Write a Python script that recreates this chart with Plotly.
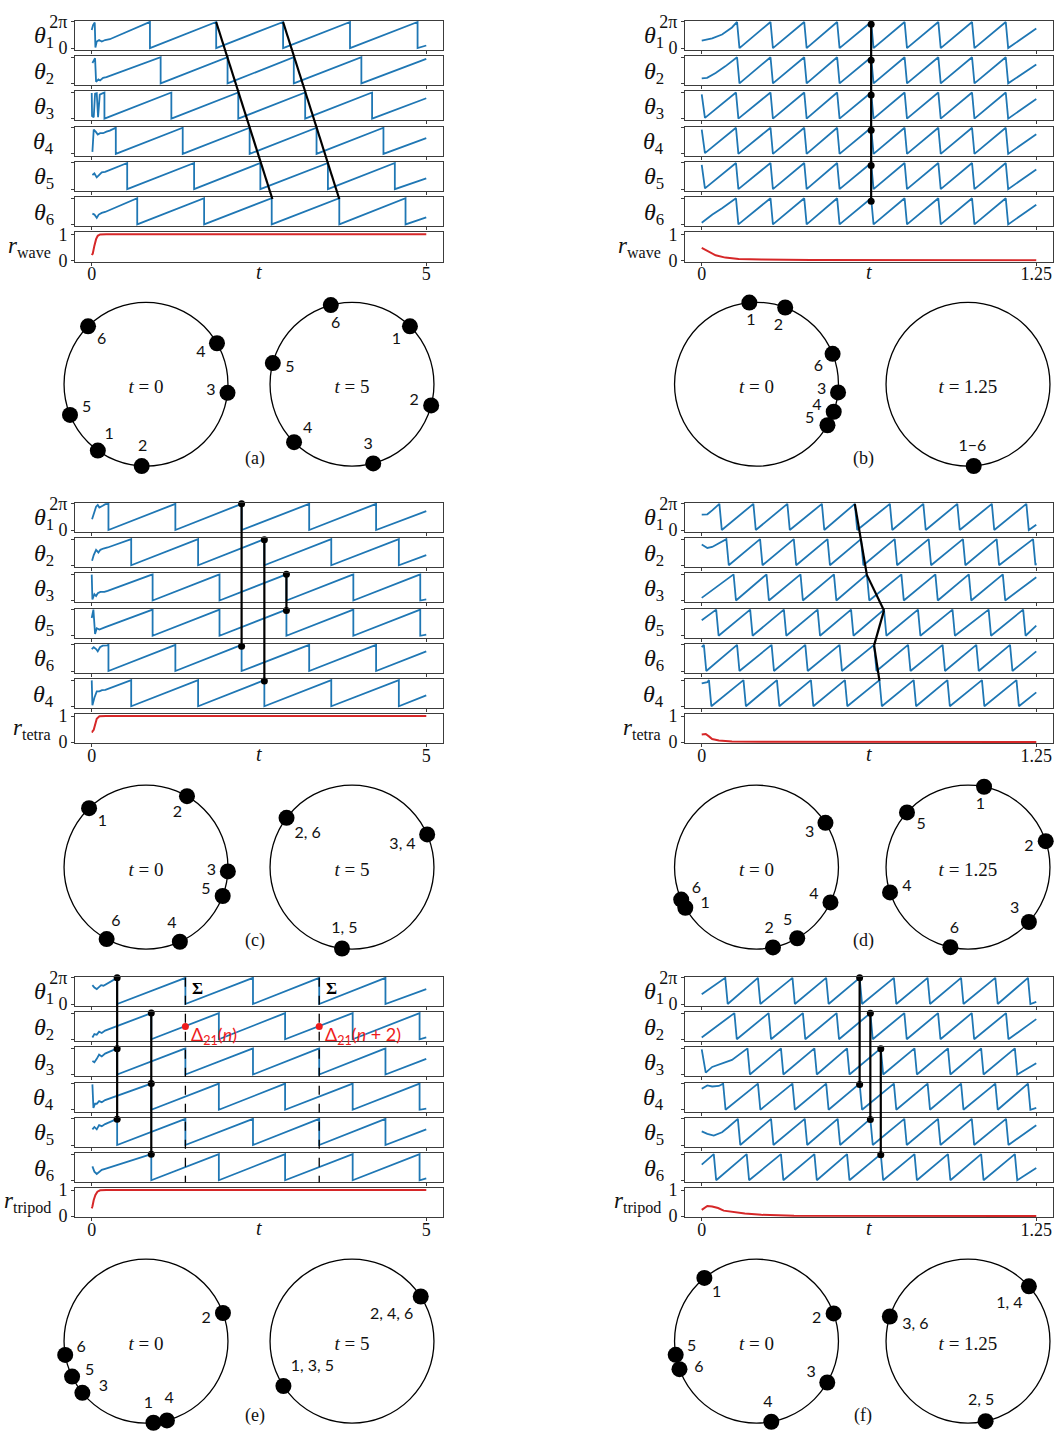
import math
import plotly.graph_objects as go

W, H = 1061, 1440
TAU = 2 * math.pi

# ------------------------------------------------------------------
# Phase traces, phases as fractions of a turn (1.0 = 2π).
# *_head  : initial transient points (t, phase)
# *_wraps : times at which the phase reaches 2π and resets to 0
# *_end   : phase at the final time
# Strips are listed in the order they are stacked.
# ------------------------------------------------------------------

# (a) travelling wave, t in [0, 5]
a_T = 5.0
a_order = [1, 2, 3, 4, 5, 6]
a_head = [
    [(0.0, 0.69), (0.02, 0.88), (0.045, 0.98), (0.055, 0.02), (0.075, 0.25), (0.11, 0.31), (0.15, 0.25), (0.2, 0.31), (0.27, 0.34)],
    [(0.01, 0.78), (0.05, 0.96), (0.065, 0.06), (0.1, 0.15), (0.125, 0.11), (0.17, 0.21), (0.22, 0.24)],
    [(0.0, 0.98), (0.005, 0.1), (0.03, 0.05), (0.05, 0.95), (0.075, 0.97), (0.095, 0.05), (0.12, 0.92), (0.15, 0.96), (0.175, 0.97)],
    [(0.01, 0.075), (0.03, 0.93), (0.065, 0.83), (0.09, 0.74), (0.125, 0.79), (0.17, 0.79), (0.22, 0.85), (0.27, 0.89)],
    [(0.01, 0.54), (0.04, 0.6), (0.075, 0.45), (0.105, 0.54), (0.15, 0.64), (0.2, 0.66)],
    [(0.01, 0.41), (0.04, 0.375), (0.075, 0.25), (0.105, 0.375), (0.15, 0.44), (0.2, 0.475)],
]
a_wraps = [
    [0.87, 1.86, 2.86, 3.86, 4.87],
    [1.03, 2.03, 3.02, 4.03],
    [0.19, 1.19, 2.19, 3.19, 4.19],
    [0.36, 1.36, 2.36, 3.36, 4.36],
    [0.53, 1.53, 2.52, 3.53, 4.53],
    [0.68, 1.68, 2.69, 3.70, 4.69],
]
a_end = [0.10, 0.94, 0.78, 0.60, 0.41, 0.27]
a_r_t = [0.0, 0.015, 0.04, 0.065, 0.09, 0.125, 0.22, 5.0]
a_r = [0.2, 0.25, 0.56, 0.81, 0.94, 0.99, 1.0, 1.0]

# (b) same network, t in [0, 1.25]
b_T = 1.25
b_order = [1, 2, 3, 4, 5, 6]
b_head = [
    [(0.0, 0.29), (0.039, 0.375), (0.076, 0.52), (0.113, 0.79)],
    [(0.0, 0.19), (0.02, 0.21), (0.052, 0.4), (0.088, 0.65)],
    [(0.0, 0.93), (0.012, 0.03)],
    [(0.0, 0.93), (0.012, 0.03)],
    [(0.0, 0.93), (0.012, 0.03)],
    [(0.0, 0.06), (0.04, 0.375), (0.076, 0.62)],
]
b_wraps = [
    [0.132, 0.257, 0.383, 0.506, 0.633, 0.758, 0.884, 1.010, 1.136],
    [0.132, 0.257, 0.383, 0.506, 0.633, 0.758, 0.884, 1.010, 1.136],
    [0.128, 0.257, 0.383, 0.506, 0.633, 0.758, 0.884, 1.010, 1.136],
    [0.128, 0.257, 0.383, 0.506, 0.633, 0.758, 0.884, 1.010, 1.136],
    [0.128, 0.257, 0.383, 0.506, 0.633, 0.758, 0.884, 1.010, 1.136],
    [0.128, 0.257, 0.383, 0.506, 0.633, 0.758, 0.884, 1.010, 1.136],
]
b_end = [0.75, 0.72, 0.75, 0.75, 0.75, 0.75]
b_r_t = [0.0, 0.027, 0.052, 0.088, 0.138, 0.224, 0.408, 1.25]
b_r = [0.47, 0.31, 0.19, 0.10, 0.05, 0.025, 0.01, 0.0]

# (c) tetrahedral pattern, t in [0, 5]
c_T = 5.0
c_order = [1, 2, 3, 5, 6, 4]
c_head = [
    [(0.005, 0.41), (0.03, 0.63), (0.065, 0.89), (0.09, 0.96), (0.114, 0.86), (0.164, 0.93), (0.204, 0.99)],
    [(0.005, 0.17), (0.03, 0.39), (0.065, 0.59), (0.1, 0.49), (0.129, 0.59), (0.174, 0.64), (0.238, 0.68)],
    [(0.0, 0.99), (0.01, 0.04), (0.04, 0.24), (0.065, 0.17), (0.09, 0.28), (0.129, 0.33), (0.189, 0.33), (0.238, 0.37)],
    [(0.0, 0.68), (0.025, 1.0), (0.05, 0.07), (0.075, 0.29), (0.114, 0.24), (0.154, 0.29), (0.204, 0.33)],
    [(0.0, 0.84), (0.03, 0.91), (0.065, 0.84), (0.09, 0.75), (0.124, 0.91), (0.164, 0.97), (0.23, 0.98)],
    [(0.0, 0.99), (0.01, 0.04), (0.04, 0.33), (0.075, 0.57), (0.114, 0.57), (0.154, 0.62), (0.204, 0.63)],
]
c_wraps = [
    [0.25, 1.25, 2.24, 3.25, 4.25],
    [0.59, 1.59, 2.58, 3.58, 4.59],
    [0.91, 1.91, 2.91, 3.91, 4.91],
    [0.91, 1.91, 2.91, 3.91, 4.91],
    [0.25, 1.25, 2.24, 3.25, 4.25],
    [0.59, 1.59, 2.58, 3.58, 4.59],
]
c_end = [0.72, 0.39, 0.04, 0.04, 0.75, 0.42]
c_r_t = [0.0, 0.005, 0.03, 0.05, 0.075, 0.115, 0.21, 5.0]
c_r = [0.39, 0.39, 0.47, 0.72, 0.90, 0.99, 1.0, 1.0]

# (d) same network, t in [0, 1.25]
d_T = 1.25
d_order = [1, 2, 3, 5, 6, 4]
d_head = [
    [(0.0, 0.59), (0.021, 0.6), (0.039, 0.75)],
    [(0.0, 0.79), (0.021, 0.66), (0.039, 0.7), (0.064, 0.83)],
    [(0.0, 0.1)],
    [(0.0, 0.59)],
    [(0.0, 0.91)],
    [(0.0, 0.88), (0.021, 0.92)],
]
d_wraps = [
    [0.066, 0.193, 0.32, 0.449, 0.572, 0.703, 0.828, 0.955, 1.084, 1.213],
    [0.092, 0.218, 0.344, 0.47, 0.595, 0.721, 0.848, 0.976, 1.102, 1.238],
    [0.119, 0.242, 0.369, 0.494, 0.617, 0.746, 0.873, 0.998, 1.125],
    [0.054, 0.181, 0.307, 0.433, 0.558, 0.681, 0.808, 0.937, 1.072, 1.201],
    [0.008, 0.132, 0.261, 0.387, 0.515, 0.644, 0.771, 0.9, 1.026, 1.152],
    [0.027, 0.156, 0.281, 0.408, 0.535, 0.664, 0.792, 0.918, 1.047, 1.176],
]
d_end = [0.2, 0.08, 0.89, 0.39, 0.75, 0.53]
d_r_t = [0.0, 0.015, 0.027, 0.039, 0.064, 0.113, 0.224, 1.25]
d_r = [0.29, 0.31, 0.22, 0.12, 0.06, 0.025, 0.01, 0.0]

# (e) tripod pattern, t in [0, 5]
e_T = 5.0
e_order = [1, 2, 3, 4, 5, 6]
e_head = [
    [(0.01, 0.72), (0.04, 0.63), (0.075, 0.57), (0.11, 0.67), (0.14, 0.72), (0.175, 0.70), (0.214, 0.76)],
    [(0.01, 0.07), (0.04, 0.2), (0.075, 0.17), (0.11, 0.29), (0.15, 0.24), (0.2, 0.33)],
    [(0.01, 0.52), (0.04, 0.47), (0.075, 0.6), (0.11, 0.76), (0.15, 0.69), (0.2, 0.8)],
    [(0.01, 0.97), (0.025, 0.07), (0.05, 0.23), (0.075, 0.23), (0.11, 0.33), (0.15, 0.29), (0.2, 0.37)],
    [(0.01, 0.6), (0.04, 0.69), (0.075, 0.6), (0.11, 0.76), (0.15, 0.72), (0.2, 0.8)],
    [(0.01, 0.53), (0.04, 0.33), (0.075, 0.24), (0.11, 0.33), (0.15, 0.4), (0.2, 0.44)],
]
e_wraps = [
    [0.38, 1.40, 2.41, 3.40, 4.39],
    [0.89, 1.90, 2.89, 3.90, 4.90],
    [0.38, 1.40, 2.41, 3.40, 4.39],
    [0.89, 1.90, 2.89, 3.90, 4.90],
    [0.38, 1.40, 2.41, 3.40, 4.39],
    [0.89, 1.90, 2.89, 3.90, 4.90],
]
e_end = [0.57, 0.07, 0.6, 0.04, 0.6, 0.07]
e_r_t = [0.0, 0.01, 0.03, 0.055, 0.085, 0.125, 0.22, 5.0]
e_r = [0.3, 0.37, 0.62, 0.81, 0.94, 0.99, 1.0, 1.0]

# (f) same network, t in [0, 1.25]
f_T = 1.25
f_order = [1, 2, 3, 4, 5, 6]
f_head = [
    [(0.0, 0.37)],
    [(0.0, 0.07)],
    [(0.0, 0.96), (0.015, 0.07), (0.039, 0.29), (0.076, 0.43), (0.113, 0.56)],
    [(0.0, 0.8), (0.021, 0.93), (0.039, 0.89), (0.064, 0.91)],
    [(0.0, 0.52), (0.021, 0.43), (0.045, 0.36), (0.076, 0.49), (0.1, 0.69)],
    [(0.0, 0.6)],
]
f_wraps = [
    [0.088, 0.21, 0.339, 0.465, 0.59, 0.718, 0.844, 0.969, 1.097, 1.219],
    [0.122, 0.25, 0.378, 0.504, 0.63, 0.757, 0.883, 1.009, 1.137],
    [0.171, 0.296, 0.421, 0.543, 0.669, 0.795, 0.92, 1.044, 1.17],
    [0.08, 0.21, 0.339, 0.465, 0.59, 0.718, 0.844, 0.969, 1.097, 1.219],
    [0.135, 0.259, 0.385, 0.508, 0.63, 0.757, 0.883, 1.009, 1.137],
    [0.045, 0.168, 0.296, 0.421, 0.543, 0.669, 0.795, 0.92, 1.044, 1.17],
]
f_end = [0.08, 0.77, 0.43, 0.07, 0.76, 0.47]
f_r_t = [0.0, 0.009, 0.021, 0.039, 0.061, 0.082, 0.113, 0.161, 0.223, 0.345, 1.25]
f_r = [0.24, 0.31, 0.39, 0.37, 0.31, 0.21, 0.16, 0.10, 0.05, 0.01, 0.0]

# connectors between strips: (strip index, t, phase)
a_links = [[(0, 1.86, 1.0), (5, 2.70, 0.97)], [(0, 2.86, 1.0), (5, 3.70, 0.97)]]
a_dots = []
b_links = [[(0, 0.633, 0.91), (5, 0.633, 0.88)]]
b_dots = [(0, 0.633, 0.91), (1, 0.633, 0.88), (2, 0.633, 0.9), (3, 0.633, 0.9), (4, 0.633, 0.9), (5, 0.633, 0.88)]
c_links = [[(0, 2.24, 1.0), (4, 2.24, 0.95)], [(1, 2.58, 0.98), (5, 2.58, 0.97)], [(2, 2.91, 1.0), (3, 2.91, 0.97)]]
c_dots = [(0, 2.24, 1.0), (4, 2.24, 0.95), (1, 2.58, 0.98), (5, 2.58, 0.97), (2, 2.91, 1.0), (3, 2.91, 0.97)]
d_links = [[(0, 0.572, 1.0), (2, 0.617, 0.98), (3, 0.681, 0.97), (4, 0.644, 0.98), (5, 0.664, 0.98)]]
d_dots = []
e_links = [[(0, 0.38, 1.0), (4, 0.38, 0.99)], [(1, 0.89, 1.0), (5, 0.89, 1.0)]]
e_dots = [(0, 0.38, 1.0), (2, 0.38, 0.99), (4, 0.38, 0.99), (1, 0.89, 1.0), (3, 0.89, 1.0), (5, 0.89, 1.0)]
f_links = [[(0, 0.59, 1.0), (3, 0.59, 0.97)], [(1, 0.63, 0.99), (4, 0.63, 0.98)], [(2, 0.669, 0.99), (5, 0.669, 0.98)]]
f_dots = [(0, 0.59, 1.0), (3, 0.59, 0.97), (1, 0.63, 0.99), (4, 0.63, 0.98), (2, 0.669, 0.99), (5, 0.669, 0.98)]

# Poincaré sections in panel (e)
e_sections = [1.40, 3.40]
e_delta = [(1.40, 0.49, "Δ<sub>21</sub>(<i>n</i>)"), (3.40, 0.49, "Δ<sub>21</sub>(<i>n</i> + 2)")]

# phase circles: labels and angles (degrees)
a_c0_lab = ["1", "2", "3", "4", "5", "6"]
a_c0_ang = [234, 267, 354, 30, 202, 135]
a_c1_lab = ["1", "2", "3", "4", "5", "6"]
a_c1_ang = [45, 345, 285, 225, 165, 105]
b_c0_lab = ["1", "2", "3", "4", "5", "6"]
b_c0_ang = [95, 69.5, -5.7, -19.6, -30, 21.8]
b_c1_lab = ["1−6"]
b_c1_ang = [274]
c_c0_lab = ["1", "2", "3", "4", "5", "6"]
c_c0_ang = [134, 60, -3, -65.6, -20.6, 241.3]
c_c1_lab = ["2, 6", "3, 4", "1, 5"]
c_c1_ang = [143, 23.5, 263]
d_c0_lab = ["1", "2", "3", "4", "5", "6"]
d_c0_ang = [209.7, -78.4, 32.7, -25.5, -60.2, 203.3]
d_c1_lab = ["1", "2", "3", "4", "5", "6"]
d_c1_ang = [78.7, 18.5, -42, 198, 138.1, 257.6]
e_c0_lab = ["1", "2", "3", "4", "5", "6"]
e_c0_ang = [275.2, 20.1, 219.1, 284.8, 205.6, 189.7]
e_c1_lab = ["2, 4, 6", "1, 3, 5"]
e_c1_ang = [33, 213.2]
f_c0_lab = ["1", "2", "3", "4", "5", "6"]
f_c0_ang = [129.5, 19.8, -30.3, -79.6, 189.6, 200]
f_c1_lab = ["1, 4", "3, 6", "2, 5"]
f_c1_ang = [42, 162.5, 282.4]

# label angle nudges where dots crowd together
label_nudge = {("b", 0, "3"): 1, ("b", 0, "5"): -3, ("b", 0, "6"): -6,
               ("d", 0, "6"): -3, ("d", 0, "1"): 6,
               ("e", 0, "6"): -4, ("e", 0, "5"): 2, ("e", 0, "3"): 8,
               ("e", 0, "1"): -3, ("e", 0, "4"): 7,
               ("f", 0, "5"): -4, ("f", 0, "6"): 5}

panels = [
    dict(key="a", row=0, col=0, T=a_T, order=a_order, head=a_head, wraps=a_wraps, end=a_end,
         rt=a_r_t, rv=a_r, rname="wave", links=a_links, dots=a_dots,
         circles=[(a_c0_lab, a_c0_ang, "0"), (a_c1_lab, a_c1_ang, "5")], drop=0.0),
    dict(key="b", row=0, col=1, T=b_T, order=b_order, head=b_head, wraps=b_wraps, end=b_end,
         rt=b_r_t, rv=b_r, rname="wave", links=b_links, dots=b_dots,
         circles=[(b_c0_lab, b_c0_ang, "0"), (b_c1_lab, b_c1_ang, "1.25")], drop=0.009),
    dict(key="c", row=1, col=0, T=c_T, order=c_order, head=c_head, wraps=c_wraps, end=c_end,
         rt=c_r_t, rv=c_r, rname="tetra", links=c_links, dots=c_dots,
         circles=[(c_c0_lab, c_c0_ang, "0"), (c_c1_lab, c_c1_ang, "5")], drop=0.0),
    dict(key="d", row=1, col=1, T=d_T, order=d_order, head=d_head, wraps=d_wraps, end=d_end,
         rt=d_r_t, rv=d_r, rname="tetra", links=d_links, dots=d_dots,
         circles=[(d_c0_lab, d_c0_ang, "0"), (d_c1_lab, d_c1_ang, "1.25")], drop=0.009),
    dict(key="e", row=2, col=0, T=e_T, order=e_order, head=e_head, wraps=e_wraps, end=e_end,
         rt=e_r_t, rv=e_r, rname="tripod", links=e_links, dots=e_dots,
         circles=[(e_c0_lab, e_c0_ang, "0"), (e_c1_lab, e_c1_ang, "5")], drop=0.0),
    dict(key="f", row=2, col=1, T=f_T, order=f_order, head=f_head, wraps=f_wraps, end=f_end,
         rt=f_r_t, rv=f_r, rname="tripod", links=f_links, dots=f_dots,
         circles=[(f_c0_lab, f_c0_ang, "0"), (f_c1_lab, f_c1_ang, "1.25")], drop=0.009),
]

# ------------------------------------------------------------------
# geometry and style
# ------------------------------------------------------------------
SERIF = "Liberation Serif"
SANS = "Lato"
BLUE = "#1f77b4"
RED = "#d62728"
FRAME = "#3c3c3c"

COL_X = [(75, 443), (685, 1053)]
ROW_TOP = [12, 500, 980]
STRIP_H = 29.5
PITCH = 35.7
TH_RANGE = [-0.45, 6.55]
R_RANGE = [-0.05, 1.07]
CIRC_R = 83
CIRC_Y = [380, 869, 1349]
CIRC_X = [(146, 352), (756.5, 968)]
LETTER_Y = [455, 943, 1424]
LETTER_X = [255, 863]
TICK_FONT = dict(family=SERIF, size=18, color="#111")


def strip_box(row, k):
    top = ROW_TOP[row] + k * PITCH
    return top, top + STRIP_H


def to_paper_y(row, k, val, rng):
    top, bot = strip_box(row, k)
    ypx = bot - (val - rng[0]) / (rng[1] - rng[0]) * (bot - top)
    return 1 - ypx / H


def saw_path(head, wraps, end, T, drop):
    ts = [p[0] for p in head]
    ys = [p[1] for p in head]
    for w in wraps:
        ts += [w, w + drop]
        ys += [1.0, 0.0]
    ts.append(T)
    ys.append(end)
    return ts, [v * TAU for v in ys]


def fmt_t(T):
    return "5" if T == 5 else "1.25"


layout = dict(width=W, height=H, margin=dict(l=0, r=0, t=0, b=0),
              paper_bgcolor="white", plot_bgcolor="white", showlegend=False,
              hovermode=False)
traces, shapes, annotations = [], [], []
n_ax = 0
n_polar = 0

for P in panels:
    row, col, T = P["row"], P["col"], P["T"]
    x0, x1 = COL_X[col]
    xr = [-0.05 * T, 1.05 * T]
    refs = []
    for k in range(7):
        n_ax += 1
        sfx = "" if n_ax == 1 else str(n_ax)
        refs.append(sfx)
        top, bot = strip_box(row, k)
        is_r = k == 6
        layout["xaxis" + sfx] = dict(
            domain=[x0 / W, x1 / W], range=xr, anchor="y" + sfx,
            showline=True, mirror=True, linecolor=FRAME, linewidth=1,
            ticks="outside", ticklen=3, tickcolor=FRAME, tickwidth=1,
            tickvals=[0, T], ticktext=["0", fmt_t(T)], showticklabels=is_r,
            ticklabelstandoff=-7,
            tickfont=TICK_FONT, showgrid=False, zeroline=False, fixedrange=True)
        if is_r:
            yv, yt, yr = [0, 1], ["0", "1"], R_RANGE
        else:
            yv, yt, yr = [0, TAU], ["0", "2π"], TH_RANGE
        layout["yaxis" + sfx] = dict(
            domain=[1 - bot / H, 1 - top / H], range=yr, anchor="x" + sfx,
            showline=True, mirror=True, linecolor=FRAME, linewidth=1,
            ticks="outside", ticklen=3, tickcolor=FRAME, tickwidth=1,
            tickvals=yv, ticktext=yt, showticklabels=(k == 0 or is_r),
            tickfont=TICK_FONT, showgrid=False, zeroline=False, fixedrange=True)
        ymid_px = (top + bot) / 2
        if is_r:
            traces.append(go.Scatter(x=P["rt"], y=P["rv"], mode="lines",
                                     line=dict(color=RED, width=2),
                                     xaxis="x" + sfx, yaxis="y" + sfx))
            annotations.append(dict(
                text="<i>r</i><sub>%s</sub>" % P["rname"], xref="paper", yref="paper",
                x=(x0 - 22) / W, y=1 - ymid_px / H, xanchor="right", yanchor="middle",
                showarrow=False, font=dict(family=SERIF, size=23, color="#111")))
        else:
            ts, ys = saw_path(P["head"][k], P["wraps"][k], P["end"][k], T, P["drop"])
            traces.append(go.Scatter(x=ts, y=ys, mode="lines",
                                     line=dict(color=BLUE, width=1.8),
                                     xaxis="x" + sfx, yaxis="y" + sfx))
            annotations.append(dict(
                text="<i>θ</i><sub>%d</sub>" % P["order"][k], xref="paper", yref="paper",
                x=(x0 - 19) / W, y=1 - (ymid_px + 2) / H, xanchor="right", yanchor="middle",
                showarrow=False, font=dict(family=SERIF, size=24, color="#111")))

    # x label
    _, rbot = strip_box(row, 6)
    annotations.append(dict(text="<i>t</i>", xref="paper", yref="paper",
                            x=(x0 + x1) / 2 / W, y=1 - (rbot + 11) / H,
                            xanchor="center", yanchor="middle", showarrow=False,
                            font=dict(family=SERIF, size=20, color="#111")))

    # connectors between strips
    xref0 = "x" + refs[0]
    for link in P["links"]:
        for (k0, t0, p0), (k1, t1, p1) in zip(link[:-1], link[1:]):
            shapes.append(dict(type="line", xref=xref0, yref="paper",
                               x0=t0, x1=t1,
                               y0=to_paper_y(row, k0, p0 * TAU, TH_RANGE),
                               y1=to_paper_y(row, k1, p1 * TAU, TH_RANGE),
                               line=dict(color="black", width=2.2)))
    for (k, t, p) in P["dots"]:
        traces.append(go.Scatter(x=[t], y=[p * TAU], mode="markers",
                                 marker=dict(color="black", size=7),
                                 cliponaxis=False,
                                 xaxis="x" + refs[k], yaxis="y" + refs[k]))

    # Poincaré sections
    if P["key"] == "e":
        for ts_ in e_sections:
            shapes.append(dict(type="line", xref=xref0, yref="paper", x0=ts_, x1=ts_,
                               y0=to_paper_y(row, 0, TAU, TH_RANGE),
                               y1=to_paper_y(row, 5, TH_RANGE[0], TH_RANGE),
                               line=dict(color="black", width=1.3, dash="dash")))
            annotations.append(dict(text="<b>Σ</b>", xref=xref0, yref="y" + refs[0],
                                    x=ts_, y=0.6 * TAU, xanchor="left", yanchor="middle",
                                    xshift=5, showarrow=False,
                                    font=dict(family=SERIF, size=17, color="black")))
        for (t, p, txt) in e_delta:
            traces.append(go.Scatter(x=[t], y=[p * TAU], mode="markers",
                                     marker=dict(color="#ee1c1c", size=7), cliponaxis=False,
                                     xaxis="x" + refs[1], yaxis="y" + refs[1]))
            annotations.append(dict(text=txt, xref="x" + refs[1], yref="y" + refs[1],
                                    x=t, y=0.15 * TAU, xanchor="left", yanchor="middle",
                                    xshift=4, showarrow=False,
                                    font=dict(family=SANS, size=18, color="#ee1c1c")))

    # phase circles
    for side, (labs, angs, tval) in enumerate(P["circles"]):
        n_polar += 1
        pname = "polar" if n_polar == 1 else "polar%d" % n_polar
        cx = CIRC_X[col][side]
        cy = CIRC_Y[row]
        R = CIRC_R
        layout[pname] = dict(
            domain=dict(x=[(cx - R) / W, (cx + R) / W], y=[1 - (cy + R) / H, 1 - (cy - R) / H]),
            bgcolor="rgba(0,0,0,0)",
            radialaxis=dict(range=[0, 1], showline=False, showticklabels=False, ticks="",
                            showgrid=False),
            angularaxis=dict(showline=True, linecolor="black", linewidth=1.3,
                             showticklabels=False, ticks="", showgrid=False,
                             rotation=0, direction="counterclockwise"))
        traces.append(go.Scatterpolar(r=[1.0] * len(angs), theta=angs, mode="markers",
                                      marker=dict(color="black", size=16),
                                      cliponaxis=False, subplot=pname))
        lr, la = [], []
        for lab, ang in zip(labs, angs):
            a = ang + label_nudge.get((P["key"], side, lab), 0)
            rad = math.radians(a)
            hw = 3.2 * len(lab)
            rr = 0.84 - (hw * abs(math.cos(rad)) + 5.5 * abs(math.sin(rad))) / R
            lr.append(rr)
            la.append(a)
        traces.append(go.Scatterpolar(r=lr, theta=la, mode="text", text=labs,
                                      textfont=dict(family=SANS, size=16, color="#111"),
                                      cliponaxis=False, subplot=pname))
        traces.append(go.Scatterpolar(r=[0.05], theta=[270], mode="text",
                                      text=["<i>t</i> = %s" % tval],
                                      textfont=dict(family=SERIF, size=19, color="#111"),
                                      cliponaxis=False, subplot=pname))

    annotations.append(dict(text="(%s)" % P["key"], xref="paper", yref="paper",
                            x=LETTER_X[col] / W, y=1 - LETTER_Y[row] / H,
                            xanchor="center", yanchor="middle", showarrow=False,
                            font=dict(family=SERIF, size=18, color="#111")))

layout["shapes"] = shapes
layout["annotations"] = annotations

fig = go.Figure(data=traces, layout=layout)
fig.update_traces(hoverinfo="skip")
fig.write_html("out.html")
